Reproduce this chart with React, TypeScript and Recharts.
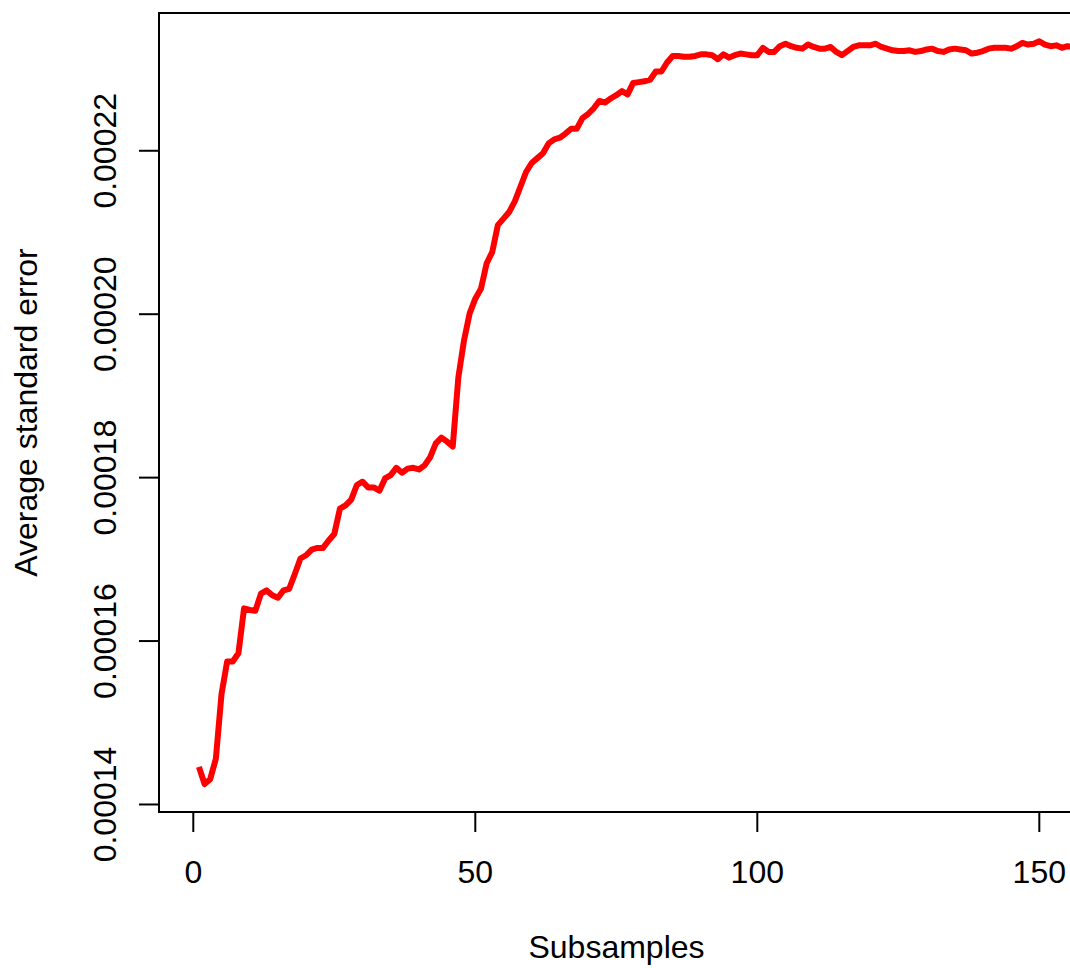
import React from "react";
import { LineChart, Line, XAxis, YAxis, ReferenceArea, Customized } from "recharts";

// Average standard error per subsample
const seValues: number[] = [
  14.46e-5, 14.25e-5, 14.31e-5, 14.56e-5, 15.35e-5, 15.75e-5, 15.75e-5, 15.85e-5, 16.40e-5, 16.38e-5,
  16.37e-5, 16.58e-5, 16.62e-5, 16.56e-5, 16.53e-5, 16.62e-5, 16.64e-5, 16.82e-5, 17.01e-5, 17.05e-5,
  17.12e-5, 17.14e-5, 17.14e-5, 17.23e-5, 17.31e-5, 17.62e-5, 17.66e-5, 17.73e-5, 17.91e-5, 17.95e-5,
  17.88e-5, 17.88e-5, 17.84e-5, 17.99e-5, 18.03e-5, 18.12e-5, 18.06e-5, 18.11e-5, 18.12e-5, 18.10e-5,
  18.15e-5, 18.25e-5, 18.42e-5, 18.49e-5, 18.44e-5, 18.38e-5, 19.23e-5, 19.68e-5, 20.01e-5, 20.19e-5,
  20.31e-5, 20.62e-5, 20.76e-5, 21.09e-5, 21.17e-5, 21.25e-5, 21.38e-5, 21.56e-5, 21.74e-5, 21.85e-5,
  21.91e-5, 21.97e-5, 22.09e-5, 22.14e-5, 22.16e-5, 22.21e-5, 22.27e-5, 22.27e-5, 22.40e-5, 22.45e-5,
  22.52e-5, 22.61e-5, 22.59e-5, 22.64e-5, 22.68e-5, 22.73e-5, 22.69e-5, 22.83e-5, 22.84e-5, 22.85e-5,
  22.87e-5, 22.97e-5, 22.97e-5, 23.08e-5, 23.16e-5, 23.16e-5, 23.15e-5, 23.15e-5, 23.16e-5, 23.18e-5,
  23.18e-5, 23.17e-5, 23.12e-5, 23.18e-5, 23.14e-5, 23.17e-5, 23.19e-5, 23.18e-5, 23.17e-5, 23.17e-5,
  23.26e-5, 23.21e-5, 23.21e-5, 23.28e-5, 23.31e-5, 23.28e-5, 23.26e-5, 23.25e-5, 23.30e-5, 23.27e-5,
  23.25e-5, 23.25e-5, 23.27e-5, 23.21e-5, 23.17e-5, 23.22e-5, 23.27e-5, 23.29e-5, 23.29e-5, 23.29e-5,
  23.31e-5, 23.27e-5, 23.25e-5, 23.23e-5, 23.22e-5, 23.22e-5, 23.23e-5, 23.21e-5, 23.22e-5, 23.24e-5,
  23.25e-5, 23.22e-5, 23.21e-5, 23.24e-5, 23.25e-5, 23.24e-5, 23.23e-5, 23.19e-5, 23.20e-5, 23.22e-5,
  23.25e-5, 23.26e-5, 23.26e-5, 23.26e-5, 23.25e-5, 23.28e-5, 23.32e-5, 23.30e-5, 23.31e-5, 23.34e-5,
  23.30e-5, 23.28e-5, 23.29e-5, 23.26e-5, 23.28e-5, 23.27e-5,
];
const subsamples: number[] = seValues.map((_, i) => i + 1);

const xTicks = [0, 50, 100, 150];
const yTicks = [0.00014, 0.00016, 0.00018, 0.0002, 0.00022];
const xLabel = "Subsamples";
const yLabel = "Average standard error";

const X_DOMAIN: [number, number] = [-6.08, 156.15];
const Y_DOMAIN: [number, number] = [0.00013908, 0.00023686];

const data = subsamples.map((s, i) => ({ x: s, y: seValues[i] }));

const FONT = "'Liberation Sans', Arial, Helvetica, sans-serif";
const FS = 32;

const XTick = (props: any) => {
  const { x, payload } = props;
  return (
    <text x={x} y={883} textAnchor="middle" fontFamily={FONT} fontSize={FS} fill="#000">
      {String(payload.value)}
    </text>
  );
};

const YTick = (props: any) => {
  const { y, payload } = props;
  const bx = 116;
  return (
    <text
      x={bx}
      y={y}
      textAnchor="middle"
      transform={`rotate(-90, ${bx}, ${y})`}
      fontFamily={FONT}
      fontSize={FS}
      fill="#000"
    >
      {Number(payload.value).toFixed(5)}
    </text>
  );
};

const AxisTitles = () => (
  <g>
    <text x={616.5} y={958} textAnchor="middle" fontFamily={FONT} fontSize={FS} fill="#000">
      {xLabel}
    </text>
    <text
      x={37}
      y={412.5}
      textAnchor="middle"
      transform="rotate(-90, 37, 412.5)"
      fontFamily={FONT}
      fontSize={FS}
      fill="#000"
    >
      {yLabel}
    </text>
  </g>
);

export default function App() {
  return (
    <div
      style={{
        position: "absolute",
        left: 0,
        top: 0,
        width: 1070,
        height: 968,
        overflow: "hidden",
        background: "#fff",
      }}
    >
      <LineChart
        width={1100}
        height={968}
        data={data}
        margin={{ top: 13, right: 26, bottom: 0, left: 0 }}
      >
        <XAxis
          dataKey="x"
          type="number"
          domain={X_DOMAIN}
          ticks={xTicks}
          allowDataOverflow
          interval={0}
          height={156}
          tickSize={20}
          axisLine={false}
          tickLine={{ stroke: "#000", strokeWidth: 2 }}
          tick={<XTick />}
        />
        <YAxis
          type="number"
          domain={Y_DOMAIN}
          ticks={yTicks}
          allowDataOverflow
          interval={0}
          width={159}
          tickSize={20}
          axisLine={false}
          tickLine={{ stroke: "#000", strokeWidth: 2 }}
          tick={<YTick />}
        />
        <ReferenceArea
          x1={X_DOMAIN[0]}
          x2={X_DOMAIN[1]}
          y1={Y_DOMAIN[0]}
          y2={Y_DOMAIN[1]}
          fill="none"
          fillOpacity={0}
          stroke="#000"
          strokeWidth={2}
          ifOverflow="visible"
        />
        <Line
          dataKey="y"
          type="linear"
          stroke="#ff0000"
          strokeWidth={6}
          strokeLinejoin="round"
          dot={false}
          activeDot={false}
          isAnimationActive={false}
        />
        <Customized component={AxisTitles} />
      </LineChart>
    </div>
  );
}
